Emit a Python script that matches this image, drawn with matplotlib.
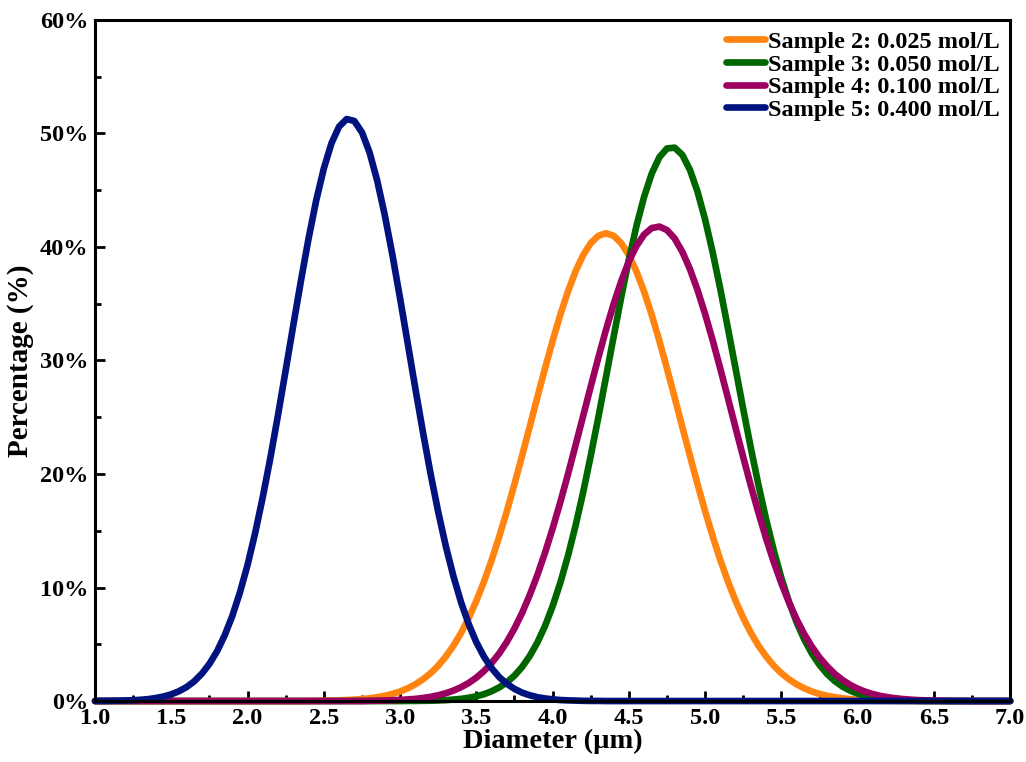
import numpy as np
import matplotlib
matplotlib.use("Agg")
import matplotlib.pyplot as plt
from matplotlib.ticker import MultipleLocator, PercentFormatter

plt.rcParams["font.family"] = ["Liberation Serif", "DejaVu Serif"]
plt.rcParams["font.weight"] = "bold"

# Diameter grid (µm), 0.05 steps, and percentages.
diameter = [1.00, 1.05, 1.10, 1.15, 1.20, 1.25, 1.30, 1.35, 1.40, 1.45,
            1.50, 1.55, 1.60, 1.65, 1.70, 1.75, 1.80, 1.85, 1.90, 1.95,
            2.00, 2.05, 2.10, 2.15, 2.20, 2.25, 2.30, 2.35, 2.40, 2.45,
            2.50, 2.55, 2.60, 2.65, 2.70, 2.75, 2.80, 2.85, 2.90, 2.95,
            3.00, 3.05, 3.10, 3.15, 3.20, 3.25, 3.30, 3.35, 3.40, 3.45,
            3.50, 3.55, 3.60, 3.65, 3.70, 3.75, 3.80, 3.85, 3.90, 3.95,
            4.00, 4.05, 4.10, 4.15, 4.20, 4.25, 4.30, 4.35, 4.40, 4.45,
            4.50, 4.55, 4.60, 4.65, 4.70, 4.75, 4.80, 4.85, 4.90, 4.95,
            5.00, 5.05, 5.10, 5.15, 5.20, 5.25, 5.30, 5.35, 5.40, 5.45,
            5.50, 5.55, 5.60, 5.65, 5.70, 5.75, 5.80, 5.85, 5.90, 5.95,
            6.00, 6.05, 6.10, 6.15, 6.20, 6.25, 6.30, 6.35, 6.40, 6.45,
            6.50, 6.55, 6.60, 6.65, 6.70, 6.75, 6.80, 6.85, 6.90, 6.95, 7.00]

# Sample 2 (0.025 mol/L): non-zero from 2.45 to 6.30
sample2 = [0.0] * 29 + [
    0.02, 0.03, 0.04, 0.06, 0.09, 0.12, 0.17, 0.24, 0.34, 0.46,
    0.63, 0.84, 1.12, 1.47, 1.91, 2.45, 3.11, 3.92, 4.87, 6.00,
    7.31, 8.82, 10.51, 12.40, 14.48, 16.72, 19.10, 21.62, 24.16, 26.75,
    29.28, 31.72, 34.00, 36.05, 37.83, 39.27, 40.33, 40.98, 41.20,
    40.98, 40.33, 39.27, 37.83, 36.05, 34.00, 31.72, 29.28, 26.75, 24.16,
    21.62, 19.10, 16.72, 14.48, 12.40, 10.51, 8.82, 7.31, 6.00, 4.87,
    3.92, 3.11, 2.45, 1.91, 1.47, 1.12, 0.84, 0.63, 0.46, 0.34,
    0.24, 0.17, 0.12, 0.09, 0.06, 0.04, 0.03, 0.02, 0.01] + [0.0] * 14

# Sample 3 (0.050 mol/L): non-zero from 3.05 to 6.50
sample3 = [0.0] * 41 + [
    0.01, 0.01, 0.02, 0.03, 0.05, 0.08, 0.13, 0.19, 0.29, 0.42,
    0.60, 0.86, 1.20, 1.65, 2.24, 3.00, 3.96, 5.15, 6.60, 8.35,
    10.39, 12.75, 15.42, 18.37, 21.60, 25.00, 28.53, 32.09, 35.58, 38.87,
    41.86, 44.42, 46.46, 47.90, 48.67, 48.74, 48.11, 46.80, 44.87, 42.40,
    39.49, 36.25, 32.79, 29.25, 25.70, 22.26, 19.00, 15.99, 13.26, 10.83,
    8.73, 6.93, 5.42, 4.18, 3.18, 2.38, 1.76, 1.28, 0.92, 0.65,
    0.45, 0.31, 0.21, 0.14, 0.09, 0.06, 0.04, 0.02, 0.01, 0.01] + [0.0] * 10

# Sample 4 (0.100 mol/L): non-zero from 2.80 to 6.70
sample4 = [0.0] * 36 + [
    0.02, 0.03, 0.05, 0.07, 0.10, 0.14, 0.19, 0.27, 0.37, 0.51,
    0.69, 0.92, 1.22, 1.59, 2.06, 2.64, 3.35, 4.19, 5.21, 6.39,
    7.76, 9.33, 11.09, 13.05, 15.19, 17.49, 19.94, 22.50, 25.10, 27.70,
    30.25, 32.70, 34.96, 36.98, 38.72, 40.09, 41.09, 41.66, 41.79, 41.48,
    40.74, 39.58, 38.06, 36.20, 34.08, 31.74, 29.24, 26.66, 24.04, 21.46,
    18.95, 16.56, 14.31, 12.24, 10.37, 8.68, 7.19, 5.89, 4.78, 3.83,
    3.05, 2.39, 1.86, 1.43, 1.09, 0.82, 0.61, 0.45, 0.33, 0.24,
    0.17, 0.12, 0.08, 0.06, 0.04, 0.03, 0.02, 0.01, 0.01] + [0.0] * 6

# Sample 5 (0.400 mol/L): non-zero from 1.00 to 4.30
sample5 = [
    0.01, 0.01, 0.02, 0.03, 0.05, 0.07, 0.11, 0.17, 0.27, 0.40,
    0.59, 0.86, 1.23, 1.73, 2.40, 3.27, 4.38, 5.78, 7.49, 9.56,
    11.98, 14.80, 17.97, 21.44, 25.20, 29.13, 33.10, 37.01, 40.73, 44.08,
    46.90, 49.12, 50.59, 51.26, 51.09, 50.09, 48.32, 45.84, 42.78, 39.28,
    35.47, 31.52, 27.54, 23.68, 20.02, 16.66, 13.63, 10.98, 8.69, 6.77,
    5.18, 3.91, 2.90, 2.11, 1.52, 1.07, 0.74, 0.51, 0.34, 0.23,
    0.15, 0.09, 0.06, 0.04, 0.02, 0.01, 0.01] + [0.0] * 54

labels = ["Sample 2: 0.025 mol/L", "Sample 3: 0.050 mol/L",
          "Sample 4: 0.100 mol/L", "Sample 5: 0.400 mol/L"]
colors = ["#FF8410", "#006600", "#9C0060", "#00137F"]

fig = plt.figure(figsize=(10.26, 7.62), dpi=100)
ax = fig.add_axes([0.0926, 0.080, 0.892, 0.894])

for ys, lab, col in zip([sample2, sample3, sample4, sample5], labels, colors):
    ax.plot(diameter, ys, color=col, lw=4.8, label=lab, clip_on=False,
            solid_capstyle="round", solid_joinstyle="round")

ax.set_xlim(1.0, 7.0)
ax.set_ylim(0, 60)
ax.xaxis.set_major_locator(MultipleLocator(0.5))
ax.xaxis.set_minor_locator(MultipleLocator(0.25))
ax.yaxis.set_major_locator(MultipleLocator(10))
ax.yaxis.set_minor_locator(MultipleLocator(5))
ax.xaxis.set_major_formatter(lambda v, p: f"{v:.1f}")
ax.yaxis.set_major_formatter(PercentFormatter(xmax=100, decimals=0))

ax.tick_params(which="both", direction="in", width=2.0, labelsize=17.5, pad=5)
ax.tick_params(which="major", length=7)
ax.tick_params(which="minor", length=4)
for sp in ax.spines.values():
    sp.set_linewidth(2.2)

ax.set_xlabel("Diameter (µm)", fontsize=20.5, fontweight="bold", labelpad=0)
ax.set_ylabel("Percentage (%)", fontsize=21, fontweight="bold", labelpad=4)

ax.legend(loc="upper right", frameon=False, fontsize=17.5, handlelength=1.6,
          handletextpad=0.1, labelspacing=0.03, borderaxespad=0.05,
          borderpad=0.4)

fig.savefig("out.png", dpi=100)
